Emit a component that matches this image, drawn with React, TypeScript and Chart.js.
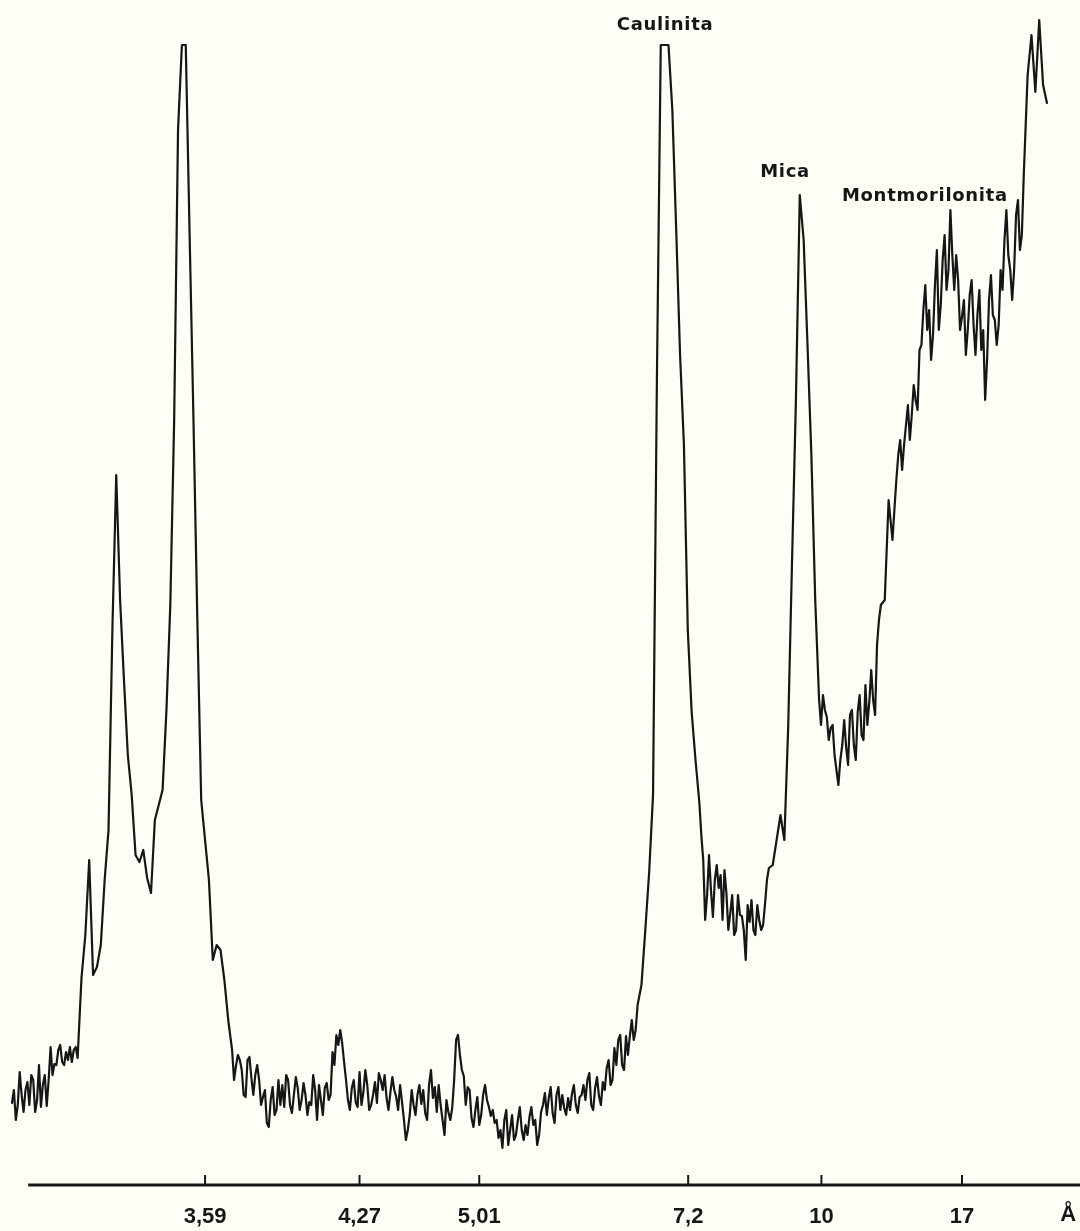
import React, { useEffect, useRef } from "react";
import { Chart, registerables } from "chart.js";

Chart.register(...registerables);

// Diffraction angle 2θ (degrees, Cu Kα) of each sampled point of the trace
const twoTheta = [
  29.8, 29.75, 29.7, 29.65, 29.6, 29.55, 29.5, 29.45, 29.4, 29.35, 29.3, 29.25, 29.2, 29.15, 29.1, 29.05,
  29.0, 28.95, 28.9, 28.85, 28.8, 28.75, 28.7, 28.65, 28.6, 28.55, 28.5, 28.45, 28.4, 28.35, 28.3, 28.25, 28.2, 28.15, 28.1,
  28.0, 27.9, 27.8, 27.7, 27.6, 27.5, 27.4, 27.3, 27.2, 27.1,
  27.0, 26.9, 26.8, 26.7, 26.6, 26.5, 26.4, 26.3, 26.2, 26.1,
  26.0, 25.9, 25.8, 25.7, 25.6, 25.5, 25.4, 25.3, 25.2, 25.1,
  25.0, 24.9, 24.8, 24.7, 24.6, 24.5, 24.4, 24.3, 24.2, 24.1,
  24.05, 24.0, 23.95, 23.9, 23.85, 23.8, 23.75, 23.7, 23.65, 23.6, 23.55, 23.5, 23.45, 23.4, 23.35, 23.3, 23.25, 23.2, 23.15, 23.1, 23.05,
  23.0, 22.95, 22.9, 22.85, 22.8, 22.75, 22.7, 22.65, 22.6, 22.55, 22.5, 22.45, 22.4, 22.35, 22.3, 22.25, 22.2, 22.15, 22.1, 22.05,
  22.0, 21.95, 21.9, 21.85, 21.8, 21.75, 21.7, 21.65, 21.6, 21.55, 21.5, 21.45, 21.4, 21.35, 21.3, 21.25, 21.2, 21.15, 21.1, 21.05,
  21.0, 20.95, 20.9, 20.85, 20.8, 20.75, 20.7, 20.65, 20.6, 20.55, 20.5, 20.45, 20.4, 20.35, 20.3, 20.25, 20.2, 20.15, 20.1, 20.05,
  20.0, 19.95, 19.9, 19.85, 19.8, 19.75, 19.7, 19.65, 19.6, 19.55, 19.5, 19.45, 19.4, 19.35, 19.3, 19.25, 19.2, 19.15, 19.1, 19.05,
  19.0, 18.95, 18.9, 18.85, 18.8, 18.75, 18.7, 18.65, 18.6, 18.55, 18.5, 18.45, 18.4, 18.35, 18.3, 18.25, 18.2, 18.15, 18.1, 18.05,
  18.0, 17.95, 17.9, 17.85, 17.8, 17.75, 17.7, 17.65, 17.6, 17.55, 17.5, 17.45, 17.4, 17.35, 17.3, 17.25, 17.2, 17.15, 17.1, 17.05,
  17.0, 16.95, 16.9, 16.85, 16.8, 16.75, 16.7, 16.65, 16.6, 16.55, 16.5, 16.45, 16.4, 16.35, 16.3, 16.25, 16.2, 16.15, 16.1, 16.05,
  16.0, 15.95, 15.9, 15.85, 15.8, 15.75, 15.7, 15.65, 15.6, 15.55, 15.5, 15.45, 15.4, 15.35, 15.3, 15.25, 15.2, 15.15, 15.1, 15.05,
  15.0, 14.95, 14.9, 14.85, 14.8, 14.75, 14.7, 14.65, 14.6, 14.55, 14.5, 14.45, 14.4, 14.35, 14.3, 14.25, 14.2, 14.15, 14.1, 14.05,
  14.0, 13.95, 13.9, 13.85, 13.8, 13.75, 13.7, 13.65,
  13.6, 13.5, 13.4, 13.3, 13.2, 13.1, 13.0, 12.9, 12.8, 12.7, 12.6, 12.5, 12.4, 12.3, 12.2, 12.1, 12.0,
  11.95, 11.9, 11.85, 11.8, 11.75, 11.7, 11.65, 11.6, 11.55, 11.5, 11.45, 11.4, 11.35, 11.3, 11.25, 11.2, 11.15, 11.1, 11.05,
  11.0, 10.95, 10.9, 10.85, 10.8, 10.75, 10.7, 10.65, 10.6, 10.55, 10.5, 10.45, 10.4, 10.35, 10.3, 10.25,
  10.2, 10.1, 10.0, 9.9, 9.8, 9.7, 9.6, 9.5, 9.4, 9.3, 9.2, 9.1, 9.0,
  8.9, 8.85, 8.8, 8.75, 8.7, 8.65, 8.6, 8.55, 8.5, 8.45, 8.4, 8.35, 8.3, 8.25, 8.2, 8.15, 8.1, 8.05,
  8.0, 7.95, 7.9, 7.85, 7.8, 7.75, 7.7, 7.65, 7.6, 7.55, 7.5, 7.45, 7.4, 7.35,
  7.3, 7.2, 7.1, 7.0,
  6.95, 6.9, 6.85, 6.8, 6.75, 6.7, 6.65, 6.6, 6.55, 6.5, 6.45, 6.4, 6.35, 6.3, 6.25, 6.2, 6.15, 6.1, 6.05,
  6.0, 5.95, 5.9, 5.85, 5.8, 5.75, 5.7, 5.65, 5.6, 5.55, 5.5, 5.45, 5.4, 5.35, 5.3, 5.25, 5.2, 5.15, 5.1, 5.05,
  5.0, 4.95, 4.9, 4.85, 4.8, 4.75, 4.7, 4.65, 4.6, 4.55, 4.5, 4.45, 4.4, 4.35, 4.3, 4.25, 4.2, 4.15, 4.1, 4.05,
  4.0, 3.95, 3.9, 3.85, 3.8, 3.75, 3.7, 3.65, 3.6, 3.55, 3.5, 3.4, 3.3, 3.2, 3.1, 3.0,
];

const intensity = [
  8.2, 9.5, 6.5, 8.0, 11.3, 9.0, 7.3, 9.5, 10.3, 8.0, 11.0, 10.5, 7.3, 8.5, 12.0, 7.8,
  10.0, 11.0, 7.9, 10.5, 13.8, 11.0, 12.1, 12.0, 13.5, 14.0, 12.3, 12.0, 13.3, 12.5, 13.8, 12.3, 13.5, 13.8, 12.7,
  20.7, 25.0, 32.5, 21.0, 21.8, 24.0, 30.5, 35.5, 55.5, 71.0,
  58.5, 50.5, 43.0, 39.0, 33.0, 32.3, 33.5, 30.7, 29.2, 36.5,
  38.0, 39.5, 47.5, 58.0, 76.5, 105.5, 114.0, 114.0, 95.0, 76.5,
  56.5, 38.5, 34.5, 30.5, 22.5, 24.0, 23.5, 20.5, 16.5, 13.5,
  10.5, 11.9, 13.0, 12.5, 11.5, 9.0, 8.8, 12.5, 12.8, 10.7, 9.0, 11.0, 12.0, 10.5, 8.0, 8.8, 9.5, 6.2, 5.8, 8.5, 9.8,
  7.0, 7.5, 10.5, 8.0, 10.0, 7.8, 11.0, 10.5, 8.0, 7.2, 9.0, 10.8, 9.7, 7.5, 8.5, 10.2, 9.0, 7.0, 8.3, 8.0,
  11.0, 9.5, 6.5, 10.0, 8.5, 7.0, 9.7, 10.2, 8.5, 9.0, 13.3, 12.0, 15.0, 14.0, 15.5, 14.2, 12.3, 10.5, 8.5, 7.5,
  9.7, 10.5, 8.3, 7.8, 11.3, 8.0, 9.3, 11.5, 10.0, 7.5, 8.0, 9.0, 10.3, 8.2, 11.2, 10.5, 9.5, 11.0, 8.7, 7.5,
  9.3, 10.8, 9.5, 8.8, 7.5, 10.0, 8.3, 6.5, 4.5, 5.5, 7.0, 9.5, 8.0, 7.0, 9.0, 10.0, 8.1, 9.5, 7.2, 6.5,
  10.0, 11.5, 8.7, 9.8, 7.3, 10.0, 8.0, 6.5, 5.0, 8.5, 7.3, 6.5, 7.7, 10.5, 14.5, 15.0, 13.0, 11.5, 10.9, 8.0,
  9.8, 9.5, 6.7, 5.8, 7.5, 8.8, 6.0, 7.0, 9.0, 10.0, 8.5, 7.8, 6.9, 7.5, 6.2, 6.5, 4.7, 5.5, 3.7, 6.5,
  7.5, 4.0, 5.5, 7.0, 4.5, 5.0, 6.5, 7.8, 5.5, 4.5, 6.0, 5.0, 6.8, 7.8, 6.0, 6.5, 4.0, 5.0, 7.3, 8.0,
  9.2, 7.0, 8.7, 9.8, 7.2, 6.2, 9.0, 9.8, 7.5, 9.0, 7.7, 7.0, 8.7, 7.5, 9.1, 10.0, 8.0, 7.2, 8.8, 9.0,
  10.0, 8.5, 10.5, 11.2, 8.0, 7.5, 9.7, 10.8, 8.9, 8.0, 10.3, 9.5, 11.7, 12.5, 10.0, 10.5, 13.7, 12.0, 14.5, 15.0,
  12.0, 11.5, 14.9, 13.0, 14.9, 16.5, 14.5, 15.5,
  18.0, 20.0, 25.5, 31.3, 39.0, 80.5, 114.0, 114.0, 114.0, 107.5, 95.5, 83.0, 74.0, 55.5, 47.3, 42.5, 38.2,
  35.0, 32.5, 26.5, 29.0, 33.0, 29.5, 26.8, 30.5, 32.0, 29.7, 31.0, 26.5, 31.5, 29.2, 25.5, 27.2, 29.0, 25.0, 25.5,
  29.0, 27.0, 26.9, 25.5, 22.5, 28.0, 26.3, 28.5, 25.5, 25.0, 28.0, 26.5, 25.5, 26.0, 28.1, 30.5,
  31.7, 32.0, 34.5, 37.0, 34.5, 45.8, 62.5, 78.5, 99.0, 94.5, 84.0, 73.0, 58.5,
  48.5, 46.0, 49.0, 47.5, 46.8, 44.5, 45.7, 46.0, 43.0, 41.5, 40.0, 42.5, 44.0, 46.5, 43.8, 42.0, 47.0, 47.5,
  44.0, 42.5, 47.3, 49.0, 45.0, 44.5, 50.0, 46.0, 48.3, 51.5, 48.5, 47.0, 54.0, 56.5,
  58.0, 58.5, 68.5, 64.5,
  67.5, 70.5, 73.0, 74.5, 71.5, 74.0, 76.0, 78.0, 74.5, 77.0, 80.0, 78.5, 77.5, 83.5, 84.0, 87.5, 90.0, 85.5, 87.5,
  82.5, 85.0, 90.0, 93.5, 85.5, 88.0, 92.5, 95.0, 89.5, 91.5, 97.5, 93.0, 89.5, 93.0, 90.5, 85.5, 86.8, 88.5, 83.0, 85.5,
  89.0, 90.5, 86.0, 83.0, 87.0, 89.5, 83.5, 85.5, 78.5, 82.5, 88.5, 91.0, 87.0, 86.5, 84.0, 86.0, 91.5, 89.5, 94.5, 97.5,
  93.0, 91.5, 88.5, 91.5, 97.0, 98.5, 93.5, 95.0, 101.0, 106.0, 111.0, 115.0, 109.3, 116.5, 110.0, 108.2,
];

// d-spacing tick labels (Å) and their 2θ positions
const tickLabels = ["3,59", "4,27", "5,01", "7,2", "10", "17"];
const tickTwoTheta = [24.8, 20.8, 17.7, 12.29, 8.84, 5.2];
const unitLabel = "Å";
const unitTwoTheta = 2.45;
const axisStartTwoTheta = 29.38;

// Mineral annotations
const peakLabels = ["Caulinita", "Mica", "Montmorilonita"];
const peakLabelTwoTheta = [12.89, 9.78, 6.16];
const peakLabelIntensity = [116.0, 101.3, 98.9];

const INK = "#161616";
const PAPER = "#fefef6";
const TICK_FONT = '"Liberation Sans", Arial, sans-serif';
const LABEL_FONT = '"DejaVu Sans", "Liberation Sans", sans-serif';

const decorPlugin = {
  id: "decor",
  beforeDraw(chart: any) {
    const { ctx, width, height } = chart;
    ctx.save();
    ctx.fillStyle = PAPER;
    ctx.fillRect(0, 0, width, height);
    ctx.restore();
  },
  afterDraw(chart: any) {
    const { ctx, chartArea } = chart;
    const x = chart.scales.x;
    const y = chart.scales.y;
    ctx.save();
    ctx.strokeStyle = INK;
    ctx.lineCap = "butt";
    // base axis line
    ctx.lineWidth = 3;
    ctx.beginPath();
    ctx.moveTo(x.getPixelForValue(axisStartTwoTheta), chartArea.bottom);
    ctx.lineTo(chartArea.right, chartArea.bottom);
    ctx.stroke();
    // upward tick marks
    ctx.lineWidth = 2;
    tickTwoTheta.forEach((t) => {
      const px = x.getPixelForValue(t);
      ctx.beginPath();
      ctx.moveTo(px, chartArea.bottom);
      ctx.lineTo(px, chartArea.bottom - 10);
      ctx.stroke();
    });
    // unit label (Å) at the end of the axis
    ctx.fillStyle = INK;
    ctx.font = `bold 22px ${TICK_FONT}`;
    ctx.textAlign = "center";
    ctx.textBaseline = "top";
    ctx.fillText(unitLabel, x.getPixelForValue(unitTwoTheta), chartArea.bottom + 19);
    // mineral labels
    ctx.font = `bold 18px ${LABEL_FONT}`;
    try {
      (ctx as any).letterSpacing = "0.7px";
    } catch (e) {}
    ctx.textBaseline = "middle";
    peakLabels.forEach((label, i) => {
      ctx.fillText(
        label,
        x.getPixelForValue(peakLabelTwoTheta[i]),
        y.getPixelForValue(peakLabelIntensity[i])
      );
    });
    ctx.restore();
  },
};

export default function App() {
  const canvasRef = useRef<HTMLCanvasElement | null>(null);

  useEffect(() => {
    if (!canvasRef.current) return;
    const n = Math.min(twoTheta.length, intensity.length);
    const points = twoTheta.slice(0, n).map((t, i) => ({ x: t, y: intensity[i] }));
    const chart = new Chart(canvasRef.current, {
      type: "line",
      data: {
        datasets: [
          {
            label: "Difratograma",
            data: points,
            borderColor: INK,
            borderWidth: 2.2,
            pointRadius: 0,
            tension: 0,
            fill: false,
            borderJoinStyle: "round",
            borderCapStyle: "round",
          },
        ],
      },
      options: {
        animation: false,
        responsive: true,
        maintainAspectRatio: false,
        layout: { padding: 0, autoPadding: false },
        plugins: {
          legend: { display: false },
          tooltip: { enabled: false },
        },
        scales: {
          x: {
            type: "linear",
            reverse: true,
            min: 2.144,
            max: 30.11,
            grid: { display: false, drawTicks: false },
            border: { display: false },
            afterBuildTicks: (scale: any) => {
              scale.ticks = tickTwoTheta.map((v) => ({ value: v }));
            },
            afterFit: (scale: any) => {
              scale.height = 46;
              scale.paddingLeft = 0;
              scale.paddingRight = 0;
            },
            ticks: {
              autoSkip: false,
              maxRotation: 0,
              minRotation: 0,
              padding: 19,
              color: INK,
              font: { family: TICK_FONT, weight: "bold", size: 22 },
              callback: (value: any) => {
                const idx = tickTwoTheta.indexOf(Number(value));
                return idx >= 0 ? tickLabels[idx] : "";
              },
            },
          },
          y: {
            display: false,
            min: 0,
            max: 118.5,
          },
        },
      },
      plugins: [decorPlugin],
    } as any);
    return () => chart.destroy();
  }, []);

  return (
    <div
      style={{
        position: "absolute",
        left: 0,
        top: 0,
        width: 1080,
        height: 1231,
        background: PAPER,
      }}
    >
      <canvas ref={canvasRef} />
    </div>
  );
}
